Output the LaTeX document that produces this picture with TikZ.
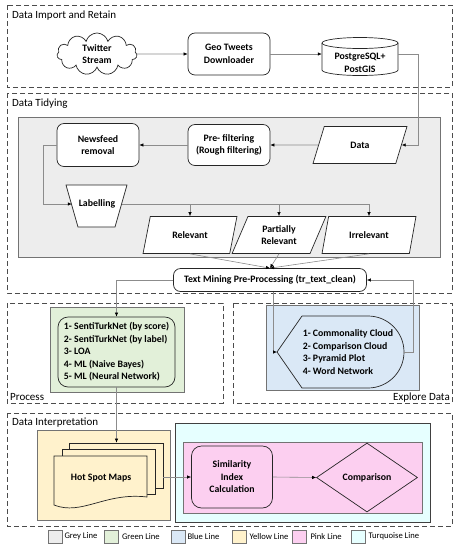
\documentclass[tikz,border=0pt]{standalone}
\usepackage{fontspec}
\setmainfont{Carlito}
\usepackage{xcolor}
\usepackage{tikz}
\usetikzlibrary{shapes,arrows.meta}
\definecolor{greyfill}{HTML}{EDEDED}
\definecolor{greenfill}{HTML}{E2F0D9}
\definecolor{bluefill}{HTML}{DAE8F6}
\definecolor{yellowfill}{HTML}{FFF2CC}
\definecolor{pinkfill}{HTML}{FCCFF0}
\definecolor{turqfill}{HTML}{E6FFFF}
\newcommand{\nodefont}{\fontsize{9.8}{12.5}\selectfont\bfseries}
\newcommand{\secfont}{\fontsize{11}{13}\selectfont}
\newcommand{\legfont}{\fontsize{8.6}{10}\selectfont}
\tikzset{
  stage/.style={draw=black!70,dash pattern=on 5pt off 3pt,line width=1pt},
  panel/.style={draw=black!55,line width=0.8pt},
  outline/.style={draw=black!85,line width=0.7pt},
  box/.style={outline,align=center,font=\nodefont,inner sep=0pt},
  proc/.style={box,rounded corners=7pt},
  io/.style={box,trapezium,trapezium left angle=65,trapezium right angle=115,trapezium stretches=true,minimum width=94pt,minimum height=37pt},
  link/.style={draw=black!45,line width=0.6pt,-{Latex[length=4pt,width=3.5pt,color=black]}},
  sectitle/.style={font=\secfont,inner sep=0pt},
  legbox/.style={draw=black!55,line width=0.7pt,minimum width=14pt,minimum height=13pt,inner sep=0pt},
  legtext/.style={font=\legfont,anchor=west,inner sep=0pt}
}

\begin{document}
\begin{tikzpicture}[x=1pt,y=-1pt]
            \useasboundingbox (0,0) rectangle (460,550);
            % stages
            \draw[stage] (7,5) rectangle (452,87);
            \node[sectitle,anchor=base west] (importtitle) at (12,18) {Data Import and Retain};
            \draw[stage] (7,93) rectangle (452,293);
            \node[sectitle,anchor=base west] (tidytitle) at (12,106) {Data Tidying};
            \draw[stage] (7,303) rectangle (223,403);
            \node[sectitle,anchor=base west] (processtitle) at (10,400) {Process};
            \draw[stage] (233,303) rectangle (452,403);
            \node[sectitle,anchor=base east] (exploretitle) at (450,400) {Explore Data};
            \draw[stage] (7,413) rectangle (452,526);
            \node[sectitle,anchor=base west] (interptitle) at (12,425) {Data Interpretation};
            % coloured panels
            \draw[panel,fill=greyfill] (18,117) rectangle (440,257);
            \draw[panel,fill=greenfill] (50,307) rectangle (184,392);
            \draw[panel,fill=bluefill] (266,305) rectangle (419,390);
            \draw[panel,fill=yellowfill] (37,430) rectangle (170,520);
            \draw[panel,fill=turqfill,draw=black!75] (175,423) rectangle (430,522);
            \draw[panel,fill=pinkfill] (183,442) rectangle (422,513);
            % import
            \node[box,cloud,cloud puffs=11,aspect=2,fill=white,minimum width=80pt,minimum height=42pt] (twitter) at (97,54) {Twitter\\Stream};
            \node[proc,fill=white,minimum width=82pt,minimum height=42pt] (geo) at (229,54) {Geo Tweets\\Downloader};
            \draw[outline,fill=white] (322,43) -- (322,70) arc[start angle=180,end angle=360,x radius=38pt,y radius=5.5pt] -- (398,43) arc[start angle=0,end angle=180,x radius=38pt,y radius=5.5pt] -- cycle;
            \draw[outline] (322,43) arc[start angle=180,end angle=360,x radius=38pt,y radius=5.5pt];
            \node[font=\nodefont,align=center,inner sep=0pt,minimum width=76pt] (db) at (360,63) {PostgreSQL+\\PostGIS};
            % tidying
            \node[io,fill=white] (data) at (360,145) {Data};
            \node[proc,fill=white,minimum width=82pt,minimum height=41pt] (prefilter) at (229,145) {Pre- filtering\\(Rough filtering)};
            \node[proc,fill=white,minimum width=82pt,minimum height=43pt] (newsfeed) at (98,145) {Newsfeed\\removal};
            \draw[outline,fill=white] (66,185) -- (127,185) -- (115,227) -- (78,227) -- cycle;
            \node[font=\nodefont,inner sep=0pt,minimum width=50pt] (labelling) at (97,204) {Labelling};
            \node[io,fill=white] (relevant) at (190,235) {Relevant};
            \node[io,fill=white] (partial) at (279,235) {Partially\\Relevant};
            \node[io,fill=white] (irrelevant) at (369,235) {Irrelevant};
            \node[proc,fill=white,minimum width=193pt,minimum height=23pt] (textmining) at (270,280) {Text Mining Pre-Processing (tr\_text\_clean)};
            % process
            \node[proc,rounded corners=10pt,align=left,fill=greenfill,minimum width=117pt,minimum height=70pt] (methods) at (116.5,352) {1- SentiTurkNet (by score)\\2- SentiTurkNet (by label)\\3- LOA\\4- ML (Naive Bayes)\\5- ML (Neural Network)};
            % explore
            \coordinate (exptip) at (277,352);
            \coordinate (expright) at (404,352);
            \draw[outline,fill=bluefill] (exptip) -- (302,316) -- (368,316) arc[start angle=90,end angle=-90,radius=36pt] -- (302,388) -- cycle;
            \node[font=\nodefont,align=left,inner sep=0pt] (explore) at (348,352) {1- Commonality Cloud\\2- Comparison Cloud\\3- Pyramid Plot\\4- Word Network};
            % interpretation
            \node[box,fill=yellowfill,minimum width=94pt,minimum height=45pt] (hsback) at (116,465.5) {};
            \node[box,fill=yellowfill,minimum width=93pt,minimum height=45pt] (hsmid) at (108.5,471.5) {};
            \draw[outline,fill=yellowfill] (54,456) -- (147,456) -- (147,497) .. controls (105,492) and (82,516) .. (54,505) -- cycle;
            \node[font=\nodefont,inner sep=0pt] (hotspot) at (101,478) {Hot Spot Maps};
            \node[proc,rounded corners=10pt,fill=pinkfill,minimum width=81pt,minimum height=62pt] (similarity) at (232,477) {Similarity\\Index\\Calculation};
            \node[box,diamond,fill=pinkfill,minimum width=101pt,minimum height=69pt] (comparison) at (367,477.5) {Comparison};
            % connectors
            \draw[link] (twitter.east) -- (geo.west);
            \draw[link] (geo.east) -- (geo.east -| db.west);
            \draw[link] (db.east |- geo.east) -- ++(20,0) |- (data.east);
            \draw[link] (data.west) -- (prefilter.east);
            \draw[link] (prefilter.west) -- (newsfeed.east);
            \draw[link] (newsfeed.west) -- ++(-13,0) |- (labelling.west);
            \draw[link] (labelling.east) -| (irrelevant.north);
            \draw[link] (relevant.north |- labelling.east) -- (relevant.north);
            \draw[link] (partial.north |- labelling.east) -- (partial.north);
            \draw[link] (relevant.south) -- (textmining.north);
            \draw[link] (partial.south) -- (textmining.north);
            \draw[link] (irrelevant.south) -- (textmining.north);
            \draw[link] (textmining.west) -| (methods.north);
            \draw[link] ([xshift=3pt]textmining.south) |- (exptip);
            \draw[link] (expright) -- ++(9,0) |- (textmining.east);
            \draw[link] (methods.south) -- (methods.south |- hsback.north);
            \draw[link] (hsback.east |- similarity.west) -- (similarity.west);
            \draw[link] (similarity.east) -- (comparison.west);
            % legend
            \node[legbox,fill=greyfill] (lgrey) at (55,536.5) {};
            \node[legtext] (lgreytext) at ([xshift=2pt]lgrey.east) {Grey Line};
            \node[legbox,fill=greenfill] (lgreen) at (111.5,536.5) {};
            \node[legtext] (lgreentext) at ([xshift=3pt]lgreen.east) {Green Line};
            \node[legbox,fill=bluefill] (lblue) at (178,536.5) {};
            \node[legtext] (lbluetext) at ([xshift=2pt]lblue.east) {Blue Line};
            \node[legbox,fill=yellowfill] (lyellow) at (239,536.5) {};
            \node[legtext] (lyellowtext) at ([xshift=3pt]lyellow.east) {Yellow Line};
            \node[legbox,fill=pinkfill] (lpink) at (299,536.5) {};
            \node[legtext] (lpinktext) at ([xshift=4pt]lpink.east) {Pink Line};
            \node[legbox,fill=turqfill] (lturq) at (358,536.5) {};
            \node[legtext] (lturqtext) at ([xshift=3pt]lturq.east) {Turquoise Line};
        \end{tikzpicture}
\end{document}
